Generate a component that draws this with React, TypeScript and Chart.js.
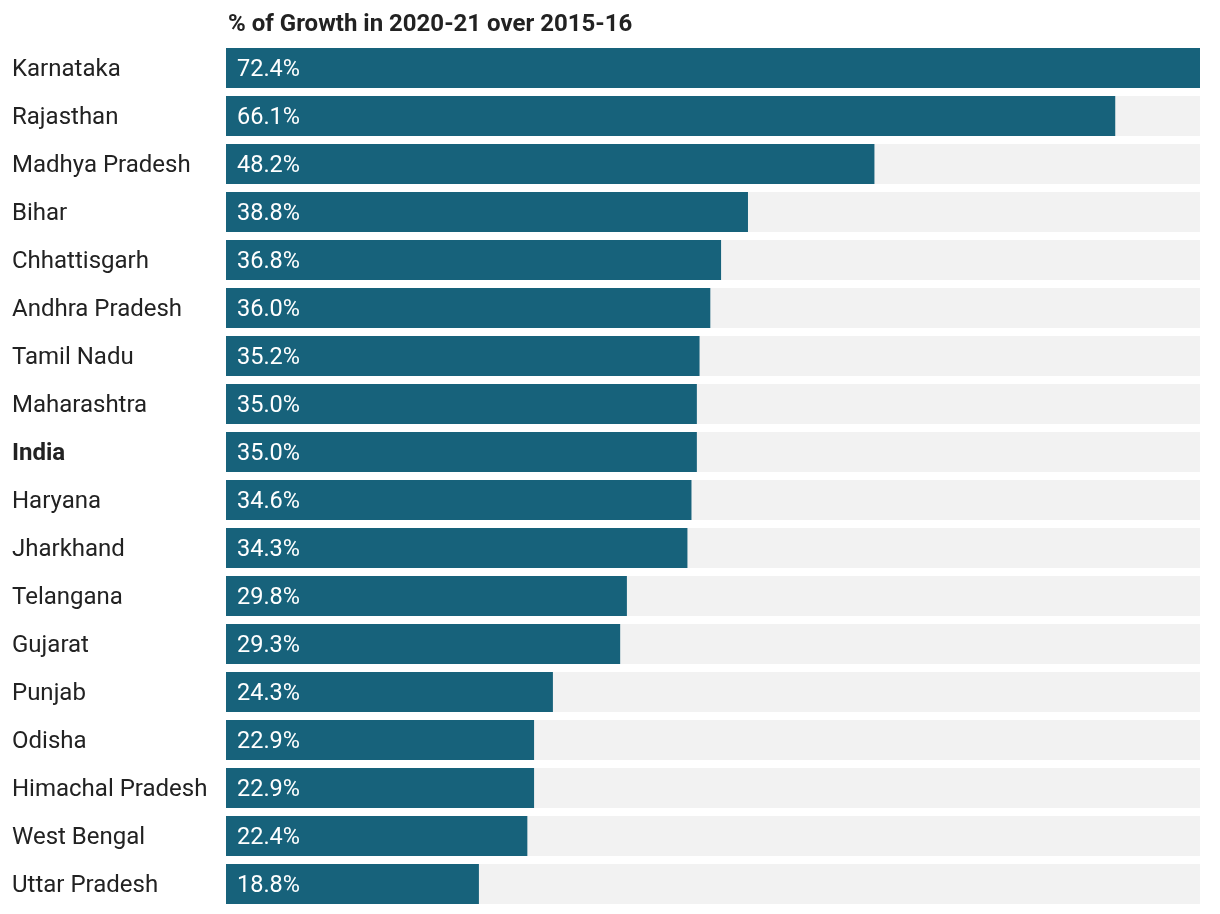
import React, { useEffect, useRef } from "react";
import { Chart, registerables } from "chart.js";

Chart.register(...registerables);

const title = "% of Growth in 2020-21 over 2015-16";
const states = [
  "Karnataka", "Rajasthan", "Madhya Pradesh", "Bihar", "Chhattisgarh", "Andhra Pradesh",
  "Tamil Nadu", "Maharashtra", "India", "Haryana", "Jharkhand", "Telangana", "Gujarat",
  "Punjab", "Odisha", "Himachal Pradesh", "West Bengal", "Uttar Pradesh",
];
const growth = [72.4, 66.1, 48.2, 38.8, 36.8, 36.0, 35.2, 35.0, 35.0, 34.6, 34.3, 29.8, 29.3, 24.3, 22.9, 22.9, 22.4, 18.8];
const boldLabel = "India";
const maxValue = 72.4;

const BAR = "#17627b";
const TRACK = "#f2f2f2";
const TEXT = "#222222";
const FONT = "Roboto, 'Noto Sans', sans-serif";

export default function App() {
  const ref = useRef<HTMLCanvasElement | null>(null);
  useEffect(() => {
    if (!ref.current) return;
    const valueLabels = {
      id: "valueLabels",
      afterDatasetsDraw(chart: any) {
        const ctx = chart.ctx;
        const meta = chart.getDatasetMeta(1);
        ctx.save();
        ctx.fillStyle = "#ffffff";
        ctx.font = `400 23.5px ${FONT}`;
        ctx.textAlign = "left";
        ctx.textBaseline = "middle";
        meta.data.forEach((bar: any, i: number) => {
          ctx.fillText(growth[i].toFixed(1) + "%", bar.base + 11, bar.y + 2);
        });
        ctx.restore();
      },
    };
    const titlePlugin = {
      id: "leftTitle",
      afterDraw(chart: any) {
        const ctx = chart.ctx;
        ctx.save();
        ctx.fillStyle = TEXT;
        ctx.font = `700 24px ${FONT}`;
        ctx.textAlign = "left";
        ctx.textBaseline = "middle";
        ctx.fillText(title, chart.chartArea.left + 2, 17);
        ctx.restore();
      },
    };
    const chart = new Chart(ref.current, {
      type: "bar",
      data: {
        labels: states,
        datasets: [
          {
            data: states.map(() => maxValue),
            backgroundColor: TRACK,
            barPercentage: 40 / 48,
            categoryPercentage: 1,
            grouped: false,
            order: 2,
          } as any,
          {
            data: growth,
            backgroundColor: BAR,
            barPercentage: 40 / 48,
            categoryPercentage: 1,
            grouped: false,
            order: 1,
          } as any,
        ],
      },
      options: {
        indexAxis: "y",
        animation: false,
        responsive: false,
        layout: { padding: { top: 36, bottom: 6, left: 4, right: 12 } },
        plugins: { legend: { display: false }, tooltip: { enabled: false }, title: { display: false } },
        scales: {
          x: { display: false, min: 0, max: maxValue },
          y: {
            grid: { display: false, drawTicks: false },
            border: { display: false },
            afterFit: (scale: any) => { scale.width = 214; },
            ticks: {
              crossAlign: "far",
              padding: 0,
              labelOffset: 2,
              color: TEXT,
              font: (ctx: any) => ({
                family: FONT,
                size: 24,
                lineHeight: 0.5,
                weight: states[ctx.index] === boldLabel ? "bold" : "normal",
              }),
            },
          },
        },
      },
      plugins: [valueLabels, titlePlugin],
    });
    return () => chart.destroy();
  }, []);
  return (
    <div style={{ fontFamily: FONT }}>
      <canvas ref={ref} width={1204} height={906} style={{ display: "block" }} />
    </div>
  );
}
